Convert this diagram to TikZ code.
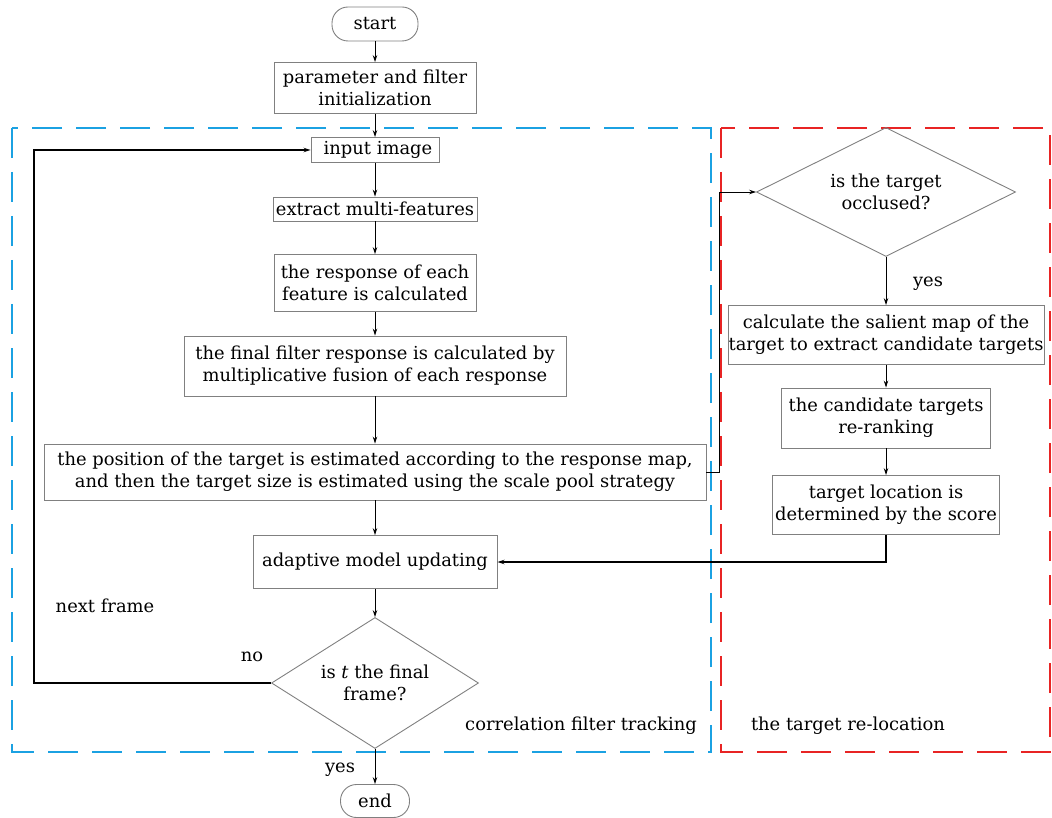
\documentclass[tikz,border=0pt]{standalone}
\usepackage{fontspec}
\setmainfont{DejaVu Serif}
\usetikzlibrary{shapes.geometric,arrows.meta}
\newcommand\fsz{\fontsize{17.9}{22}\selectfont}
\begin{document}
\begin{tikzpicture}[x=1pt,y=-1pt,
  box/.style={draw=black!50, line width=0.9pt, inner sep=0pt, align=center, font=\fsz},
  term/.style={box, rounded corners=16pt},
  dia/.style={diamond, draw=black!50, line width=0.9pt, inner sep=0pt, align=center, font=\fsz},
  conn/.style={draw=black, line width=0.9pt, -{Stealth[length=7pt,width=4.5pt]}},
  lab/.style={font=\fsz, inner sep=0pt},
  bluebox/.style={draw={rgb,255:red,27;green,161;blue,226}, line width=2.4pt, dash pattern=on 30pt off 14pt},
  redbox/.style={draw={rgb,255:red,232;green,36;blue,36}, line width=2.4pt, dash pattern=on 30pt off 14pt}
]
\useasboundingbox (0,0) rectangle (1052,818);
% regions
\draw[bluebox] (12,128) rectangle (711,752);
\draw[redbox] (721,128) rectangle (1050,752);
% left column
\node[term, minimum width=86, minimum height=34] (start) at (375,24) {start};
\node[box, minimum width=202, minimum height=51] (param) at (375,88) {parameter and filter\\initialization};
\node[box, minimum width=128, minimum height=25] (input) at (375,150) {\hspace*{6pt}input image};
\node[box, minimum width=204, minimum height=24] (extract) at (375,209) {extract multi-features};
\node[box, minimum width=202, minimum height=57] (resp) at (375,283) {the response of each\\feature is calculated};
\node[box, minimum width=382, minimum height=60] (final) at (375,366) {the final filter response is calculated by\\multiplicative fusion of each response};
\node[box, minimum width=662, minimum height=56] (pos) at (375,472) {the position of the target is estimated according to the response map,\\and then the target size is estimated using the scale pool strategy};
\node[box, minimum width=244, minimum height=53] (adapt) at (375,562) {adaptive model updating};
\node[dia, aspect=1.58, minimum width=207, minimum height=131] (last) at (375,683) {is \textit{t} the final\\frame?};
\node[term, minimum width=69, minimum height=33] (end) at (375,801) {end};
% right column
\node[dia, aspect=2, minimum width=259, minimum height=129] (occ) at (886,192) {is the target\\occlused?};
\node[box, minimum width=316, minimum height=59] (sal) at (886,335) {calculate the salient map of the\\target to extract candidate targets};
\node[box, minimum width=209, minimum height=60] (cand) at (886,418) {the candidate targets\\re-ranking};
\node[box, minimum width=227, minimum height=59] (loc) at (886,505) {target location is\\determined by the score};
% connectors
\draw[conn] (start) -- (param);
\draw[conn] (param) -- (input);
\draw[conn] (input) -- (extract);
\draw[conn] (extract) -- (resp);
\draw[conn] (resp) -- (final);
\draw[conn] (final) -- (pos);
\draw[conn] (pos) -- (adapt);
\draw[conn] (adapt) -- (last);
\draw[conn] (last) -- (end);
\draw[conn, line width=1.2pt] (last.west) -- ++(-237,0) |- (input.west);
\draw[conn] (pos.east) -- ++(13,0) |- (occ.west);
\draw[conn] (occ) -- (sal);
\draw[conn] (sal) -- (cand);
\draw[conn] (cand) -- (loc);
\draw[conn, line width=1.2pt] (loc.south) |- (adapt.east);
% labels
\node[lab] (lno) at (252,657) {no};
\node[lab] (lnext) at (105,606) {next frame};
\node[lab] (lyes1) at (928,284) {yes};
\node[lab] (lyes2) at (340,770) {yes};
\node[lab] (lcft) at (581,726) {correlation filter tracking};
\node[lab] (lrel) at (848,726) {the target re-location};
\end{tikzpicture}
\end{document}
